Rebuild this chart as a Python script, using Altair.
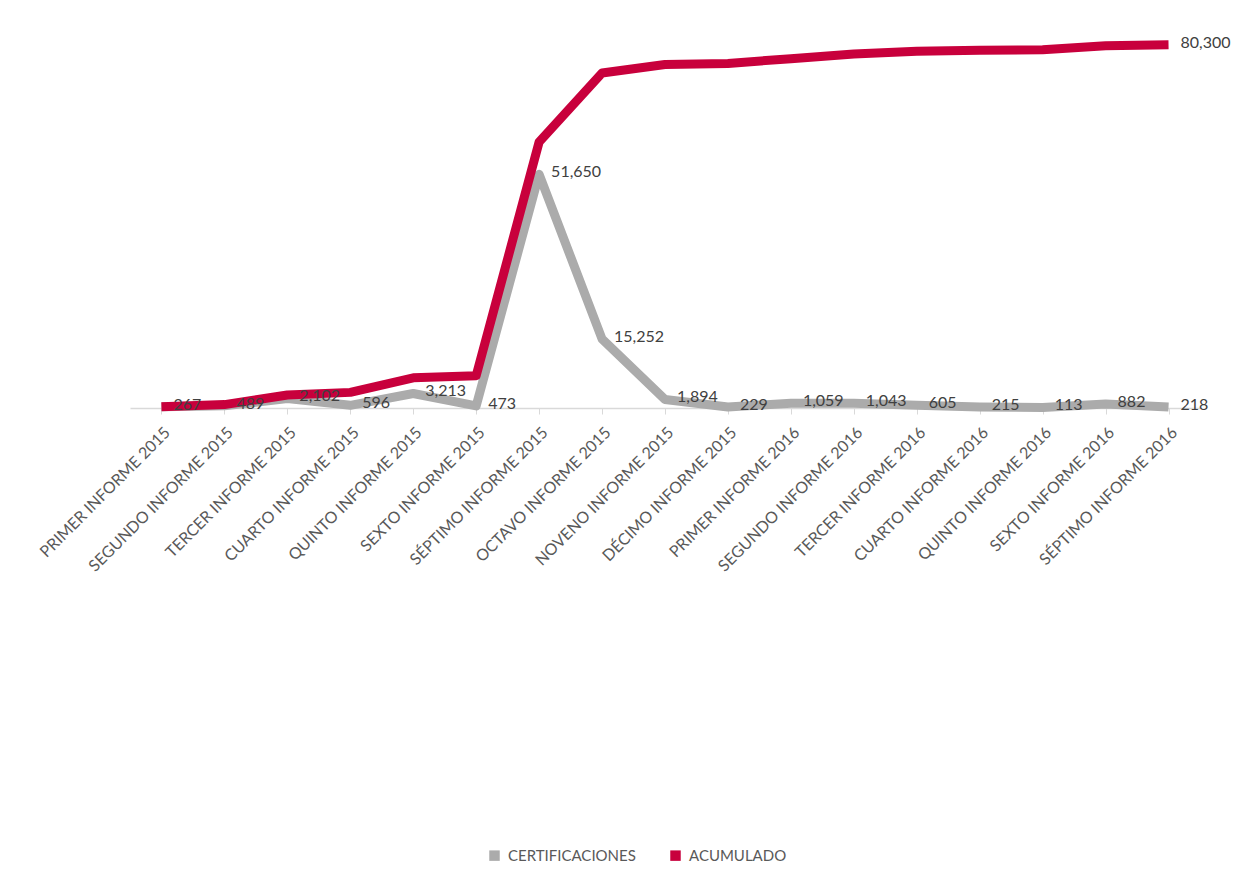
import altair as alt
import pandas as pd

categorias = [
    "PRIMER INFORME 2015", "SEGUNDO INFORME 2015", "TERCER INFORME 2015",
    "CUARTO INFORME 2015", "QUINTO INFORME 2015", "SEXTO INFORME 2015",
    "SÉPTIMO INFORME 2015", "OCTAVO INFORME 2015", "NOVENO INFORME 2015",
    "DÉCIMO INFORME 2015", "PRIMER INFORME 2016", "SEGUNDO INFORME 2016",
    "TERCER INFORME 2016", "CUARTO INFORME 2016", "QUINTO INFORME 2016",
    "SEXTO INFORME 2016", "SÉPTIMO INFORME 2016",
]
certificaciones = [267, 489, 2102, 596, 3213, 473, 51650, 15252, 1894,
                   229, 1059, 1043, 605, 215, 113, 882, 218]
acumulado = [267, 756, 2858, 3454, 6667, 7140, 58790, 74042, 75936,
             76165, 77224, 78267, 78872, 79087, 79200, 80082, 80300]
series = ["CERTIFICACIONES", "ACUMULADO"]
colores = ["#ABABAB", "#C8003C"]

rows = []
for i, c in enumerate(categorias):
    rows.append({"cat": c, "orden": i, "serie": series[0],
                 "valor": certificaciones[i], "etiqueta": True})
    rows.append({"cat": c, "orden": i, "serie": series[1],
                 "valor": acumulado[i], "etiqueta": i == len(categorias) - 1})
df = pd.DataFrame(rows)

FONT = "Lato"

x = alt.X("cat:N", sort=categorias,
          scale=alt.Scale(type="point", padding=0.5),
          axis=alt.Axis(title=None, labelAngle=-45, labelFontSize=16,
                        labelColor="#595959", labelFont=FONT, labelPadding=10,
                        labelLimit=0,
                        domainColor="#D9D9D9", domainWidth=1.5,
                        tickColor="#D9D9D9", tickSize=6, grid=False))
y = alt.Y("valor:Q", scale=alt.Scale(domain=[0, 84000]), axis=None)

base = alt.Chart(df)

lines = base.mark_line(strokeWidth=9, strokeJoin="round").encode(
    x=x, y=y,
    color=alt.Color("serie:N", sort=series,
                    scale=alt.Scale(domain=series, range=colores),
                    legend=alt.Legend(title=None, orient="none", legendX=357, legendY=820,
                                      direction="horizontal", symbolType="square",
                                      symbolSize=20, symbolStrokeWidth=6,
                                      labelFontSize=15, labelFont=FONT,
                                      labelColor="#595959", columnPadding=25,
                                      labelOffset=6)),
    order="orden:Q",
    detail="serie:N",
)

labels = base.transform_filter(alt.datum.etiqueta).mark_text(
    align="left", baseline="middle", dx=12, dy=-2, fontSize=16, font=FONT,
    color="#404040",
).encode(x=x, y=y, text=alt.Text("valor:Q", format=","))

chart = alt.layer(lines, labels).properties(
    width=1070, height=380,
    background="white",
    autosize=alt.AutoSizeParams(type="none"),
    padding={"left": 122, "top": 20, "right": 41, "bottom": 455},
).configure_view(strokeWidth=0)

chart.save("out.html", embed_options={"renderer": "svg", "actions": False})
